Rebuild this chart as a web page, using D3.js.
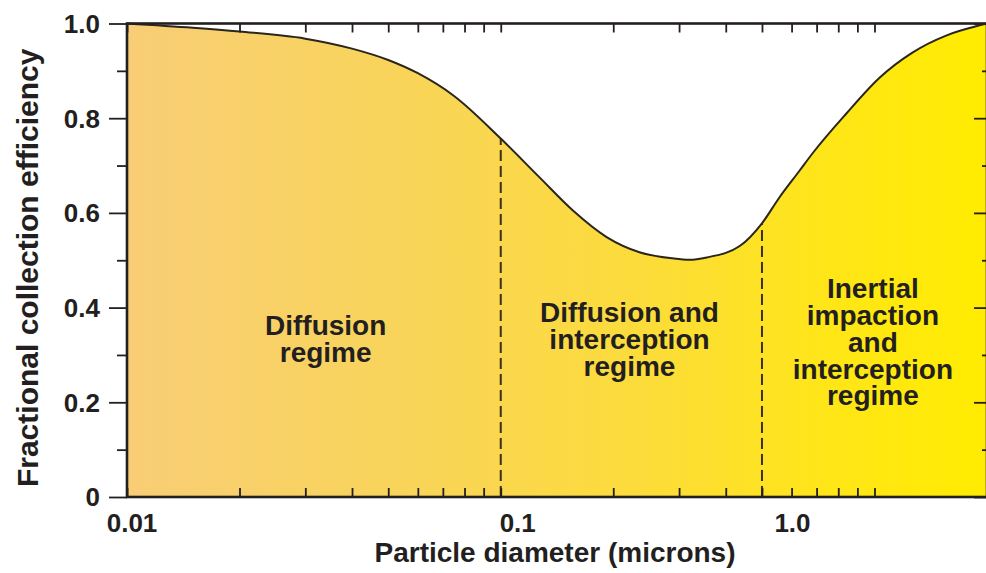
<!DOCTYPE html>
<html>
<head>
<meta charset="utf-8">
<script src="https://cdn.jsdelivr.net/npm/d3@7"></script>
<style>
  html, body { margin: 0; padding: 0; background: #fff; }
  svg { display: block; font-family: "Liberation Sans", Arial, Helvetica, sans-serif; font-weight: bold; }
</style>
</head>
<body>
<div id="graphic"><div class="chart"></div></div>
<script>
// Particle diameter (microns) and fractional collection efficiency
var diameters = [0.01, 0.015, 0.02, 0.03, 0.04, 0.05, 0.06, 0.075, 0.1, 0.127, 0.156, 0.192,
                 0.235, 0.288, 0.32, 0.356, 0.436, 0.5, 0.556, 0.63, 0.683, 0.841, 1.03,
                 1.26, 1.56, 1.91, 2.0];
var efficiency = [1.0, 0.991, 0.983, 0.968, 0.947, 0.923, 0.895, 0.847, 0.757, 0.675, 0.605, 0.549,
                  0.517, 0.504, 0.501, 0.506, 0.53, 0.578, 0.632, 0.689, 0.726, 0.81, 0.885,
                  0.938, 0.975, 0.996, 1.0];

// Regime boundaries (dashed lines)
var boundaries = [0.1, 0.5];

// Tick values and labels
var xMajorTicks = [0.01, 0.1, 1];
var xTickLabels = ["0.01", "0.1", "1.0"];
var xMinorTicks = [0.02, 0.03, 0.04, 0.05, 0.06, 0.07, 0.08, 0.09,
                   0.2, 0.3, 0.4, 0.5, 0.6, 0.7, 0.8, 0.9];
var yMajorTicks = [0, 0.2, 0.4, 0.6, 0.8, 1.0];
var yTickLabels = ["0", "0.2", "0.4", "0.6", "0.8", "1.0"];
var yMinorTicks = [0.1, 0.3, 0.5, 0.7, 0.9];

// Regime annotations: anchor diameter, efficiency of the first line, text lines
var regimeAt = [0.034, 0.221, 0.99];
var regimeTop = [0.342, 0.369, 0.42];
var regimeLines = [
  ["Diffusion", "regime"],
  ["Diffusion and", "interception", "regime"],
  ["Inertial", "impaction", "and", "interception", "regime"]
];

(function() {
  var W = 986, H = 573;
  var margin = { top: 23.5, right: -1, bottom: 76, left: 127 };
  var width = W - margin.left - margin.right;
  var height = H - margin.top - margin.bottom;
  var ink = "#231f20";

  var x = d3.scaleLog().domain([0.01, 2]).range([0, width]);
  var y = d3.scaleLinear().domain([0, 1]).range([height, 0]);

  var svg = d3.select(".chart").append("svg")
      .attr("width", W)
      .attr("height", H)
    .append("g")
      .attr("transform", "translate(" + margin.left + "," + margin.top + ")");

  // Horizontal orange-to-yellow fill
  var grad = svg.append("defs").append("linearGradient")
      .attr("id", "fill")
      .attr("gradientUnits", "userSpaceOnUse")
      .attr("x1", 0).attr("x2", width).attr("y1", 0).attr("y2", 0);
  grad.selectAll("stop")
      .data([["0%", "#f8cd76"], ["35%", "#f9d557"], ["60%", "#fcdc3a"], ["82%", "#fee617"], ["100%", "#ffec00"]])
    .enter().append("stop")
      .attr("offset", function(d) { return d[0]; })
      .attr("stop-color", function(d) { return d[1]; });

  var pts = diameters.map(function(d, i) { return [d, efficiency[i]]; });

  var area = d3.area()
      .x(function(d) { return x(d[0]); })
      .y0(height)
      .y1(function(d) { return y(d[1]); })
      .curve(d3.curveMonotoneX);

  var line = d3.line()
      .x(function(d) { return x(d[0]); })
      .y(function(d) { return y(d[1]); })
      .curve(d3.curveMonotoneX);

  svg.append("path")
      .datum(pts)
      .attr("d", area)
      .attr("fill", "url(#fill)");

  // Dashed boundaries, from the axis up to the curve
  var interp = function(v) {
    var i = d3.bisectLeft(diameters, v);
    if (diameters[i] === v) return efficiency[i];
    var t = (Math.log(v) - Math.log(diameters[i - 1])) / (Math.log(diameters[i]) - Math.log(diameters[i - 1]));
    return efficiency[i - 1] + t * (efficiency[i] - efficiency[i - 1]);
  };

  svg.append("g").selectAll("line")
      .data(boundaries)
    .enter().append("line")
      .attr("x1", function(d) { return x(d); })
      .attr("x2", function(d) { return x(d); })
      .attr("y1", height)
      .attr("y2", function(d) { return y(interp(d)); })
      .attr("stroke", "#3b2f1a")
      .attr("stroke-width", 2)
      .attr("stroke-dasharray", "11,5");

  svg.append("path")
      .datum(pts)
      .attr("d", line)
      .attr("fill", "none")
      .attr("stroke", "#2a261c")
      .attr("stroke-width", 2);

  // Axes
  function clean(g) {
    g.select(".domain").remove();
    g.selectAll(".tick line").attr("stroke", ink).attr("stroke-width", 1.8);
  }

  svg.append("g")
      .call(d3.axisLeft(y).tickValues(yMajorTicks).tickSize(18).tickFormat(""))
      .call(clean);
  svg.append("g")
      .call(d3.axisLeft(y).tickValues(yMinorTicks).tickSize(10).tickFormat(""))
      .call(clean);

  svg.append("g")
      .attr("transform", "translate(" + width + ",0)")
      .call(d3.axisLeft(y).tickValues(yMajorTicks).tickSize(13).tickFormat(""))
      .call(clean);
  svg.append("g")
      .attr("transform", "translate(" + width + ",0)")
      .call(d3.axisLeft(y).tickValues(yMinorTicks).tickSize(5).tickFormat(""))
      .call(clean);

  var xAll = xMajorTicks.concat(xMinorTicks);
  svg.append("g")
      .call(d3.axisTop(x).tickValues(xAll).tickSize(-9).tickFormat(""))
      .call(clean);
  svg.append("g")
      .attr("transform", "translate(0," + height + ")")
      .call(d3.axisBottom(x).tickValues(xAll).tickSize(-9).tickFormat(""))
      .call(clean);

  // Frame
  svg.append("rect")
      .attr("x", 0).attr("y", 0)
      .attr("width", width).attr("height", height)
      .attr("fill", "none")
      .attr("stroke", ink)
      .attr("stroke-width", 2.6);

  // Tick labels
  svg.append("g").selectAll("text")
      .data(yMajorTicks)
    .enter().append("text")
      .attr("x", -27)
      .attr("y", function(d) { return y(d); })
      .attr("dy", "0.36em")
      .attr("text-anchor", "end")
      .attr("font-size", 26)
      .attr("fill", ink)
      .text(function(d, i) { return yTickLabels[i]; });

  // The printed labels sit a little off their ticks in the original
  var labelNudge = [5, 17, -82];
  svg.append("g").selectAll("text")
      .data(xMajorTicks)
    .enter().append("text")
      .attr("x", function(d) { return x(d); })
      .attr("dx", function(d, i) { return labelNudge[i]; })
      .attr("y", height + 35)
      .attr("text-anchor", "middle")
      .attr("font-size", 26)
      .attr("fill", ink)
      .text(function(d, i) { return xTickLabels[i]; });

  // Axis titles
  svg.append("text")
      .attr("x", width / 2 - 2)
      .attr("y", height + 65)
      .attr("text-anchor", "middle")
      .attr("font-size", 28)
      .attr("fill", ink)
      .text("Particle diameter (microns)");

  svg.append("text")
      .attr("transform", "translate(" + (38 - margin.left) + "," + (y(0.484)) + ") rotate(-90)")
      .attr("text-anchor", "middle")
      .attr("font-size", 30)
      .attr("fill", ink)
      .text("Fractional collection efficiency");

  // Regime labels
  var labels = svg.append("g").selectAll("text")
      .data(regimeLines)
    .enter().append("text")
      .attr("text-anchor", "middle")
      .attr("font-size", 28)
      .attr("fill", ink)
      .attr("transform", function(d, i) {
        return "translate(" + x(regimeAt[i]) + "," + y(regimeTop[i]) + ")";
      });

  labels.selectAll("tspan")
      .data(function(d) { return d; })
    .enter().append("tspan")
      .attr("x", 0)
      .attr("y", function(d, i) { return i * 26.8; })
      .text(function(d) { return d; });
})();
</script>
</body>
</html>
